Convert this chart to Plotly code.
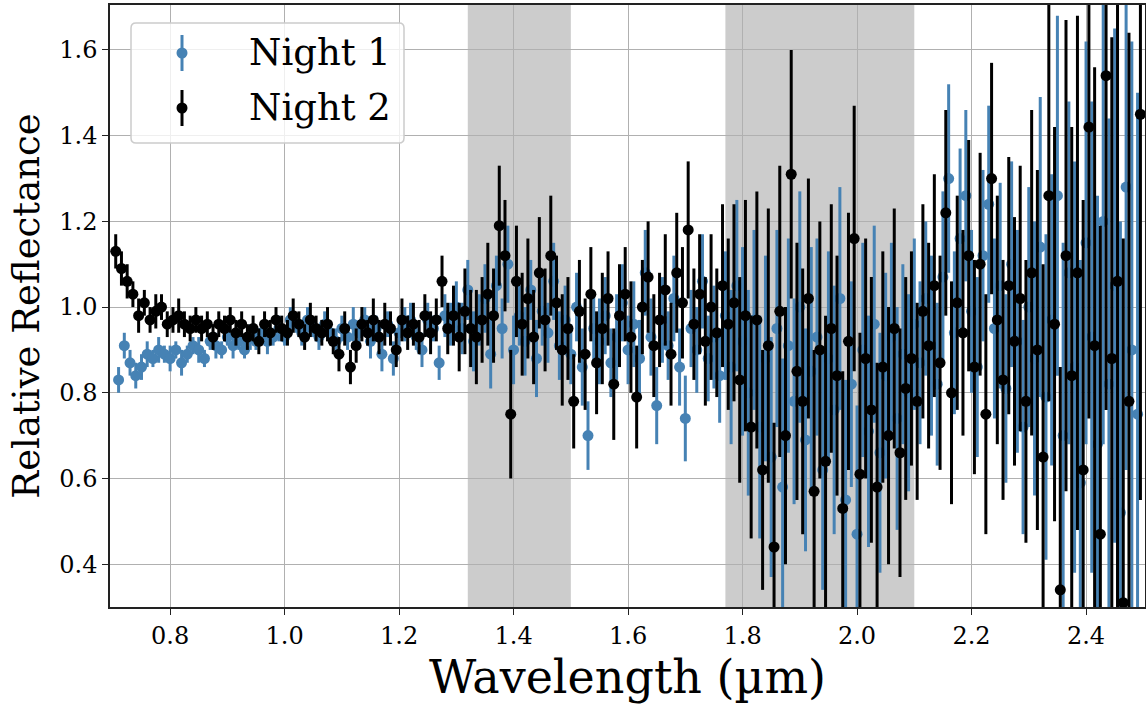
import plotly.graph_objects as go

wavelength_n1 = [
    0.71, 0.72, 0.73, 0.74, 0.75, 0.76, 0.77, 0.78, 0.79, 0.80,
    0.81, 0.82, 0.83, 0.84, 0.85, 0.86, 0.87, 0.88, 0.89, 0.90,
    0.91, 0.92, 0.93, 0.94, 0.95, 0.96, 0.97, 0.98, 0.99, 1.00,
    1.01, 1.02, 1.03, 1.04, 1.05, 1.06, 1.07, 1.08, 1.09, 1.10,
    1.11, 1.12, 1.13, 1.14, 1.15, 1.16, 1.17, 1.18, 1.19, 1.20,
    1.21, 1.22, 1.23, 1.24, 1.25, 1.26, 1.27, 1.28, 1.29, 1.30,
    1.31, 1.32, 1.33, 1.34, 1.35, 1.36, 1.37, 1.38, 1.39, 1.40,
    1.41, 1.42, 1.43, 1.44, 1.45, 1.46, 1.47, 1.48, 1.49, 1.50,
    1.51, 1.52, 1.53, 1.54, 1.55, 1.56, 1.57, 1.58, 1.59, 1.60,
    1.61, 1.62, 1.63, 1.64, 1.65, 1.66, 1.67, 1.68, 1.69, 1.70,
    1.71, 1.72, 1.73, 1.74, 1.75, 1.76, 1.77, 1.78, 1.79, 1.80,
    1.81, 1.82, 1.83, 1.84, 1.85, 1.86, 1.87, 1.88, 1.89, 1.90,
    1.91, 1.92, 1.93, 1.94, 1.95, 1.96, 1.97, 1.98, 1.99, 2.00,
    2.01, 2.02, 2.03, 2.04, 2.05, 2.06, 2.07, 2.08, 2.09, 2.10,
    2.11, 2.12, 2.13, 2.14, 2.15, 2.16, 2.17, 2.18, 2.19, 2.20,
    2.21, 2.22, 2.23, 2.24, 2.25, 2.26, 2.27, 2.28, 2.29, 2.30,
    2.31, 2.32, 2.33, 2.34, 2.35, 2.36, 2.37, 2.38, 2.39, 2.40,
    2.41, 2.42, 2.43, 2.44, 2.45, 2.46, 2.47, 2.48, 2.49,
]

wavelength_n2 = [
    0.705, 0.715, 0.725, 0.735, 0.745, 0.755, 0.765, 0.775, 0.785, 0.795,
    0.805, 0.815, 0.825, 0.835, 0.845, 0.855, 0.865, 0.875, 0.885, 0.895,
    0.905, 0.915, 0.925, 0.935, 0.945, 0.955, 0.965, 0.975, 0.985, 0.995,
    1.005, 1.015, 1.025, 1.035, 1.045, 1.055, 1.065, 1.075, 1.085, 1.095,
    1.105, 1.115, 1.125, 1.135, 1.145, 1.155, 1.165, 1.175, 1.185, 1.195,
    1.205, 1.215, 1.225, 1.235, 1.245, 1.255, 1.265, 1.275, 1.285, 1.295,
    1.305, 1.315, 1.325, 1.335, 1.345, 1.355, 1.365, 1.375, 1.385, 1.395,
    1.405, 1.415, 1.425, 1.435, 1.445, 1.455, 1.465, 1.475, 1.485, 1.495,
    1.505, 1.515, 1.525, 1.535, 1.545, 1.555, 1.565, 1.575, 1.585, 1.595,
    1.605, 1.615, 1.625, 1.635, 1.645, 1.655, 1.665, 1.675, 1.685, 1.695,
    1.705, 1.715, 1.725, 1.735, 1.745, 1.755, 1.765, 1.775, 1.785, 1.795,
    1.805, 1.815, 1.825, 1.835, 1.845, 1.855, 1.865, 1.875, 1.885, 1.895,
    1.905, 1.915, 1.925, 1.935, 1.945, 1.955, 1.965, 1.975, 1.985, 1.995,
    2.005, 2.015, 2.025, 2.035, 2.045, 2.055, 2.065, 2.075, 2.085, 2.095,
    2.105, 2.115, 2.125, 2.135, 2.145, 2.155, 2.165, 2.175, 2.185, 2.195,
    2.205, 2.215, 2.225, 2.235, 2.245, 2.255, 2.265, 2.275, 2.285, 2.295,
    2.305, 2.315, 2.325, 2.335, 2.345, 2.355, 2.365, 2.375, 2.385, 2.395,
    2.405, 2.415, 2.425, 2.435, 2.445, 2.455, 2.465, 2.475, 2.495,
]

night1 = [
    0.83, 0.91, 0.87, 0.84, 0.86, 0.89, 0.88, 0.90, 0.89, 0.88,
    0.90, 0.87, 0.89, 0.91, 0.90, 0.88, 0.92, 0.91, 0.90, 0.93,
    0.91, 0.92, 0.90, 0.93, 0.92, 0.94, 0.92, 0.93, 0.95, 0.93,
    0.97, 0.96, 0.94, 0.97, 0.95, 0.93, 0.96, 0.94, 0.92, 0.95,
    0.93, 0.96, 0.94, 0.97, 0.92, 0.95, 0.89, 0.96, 0.88, 0.94,
    0.96, 0.97, 0.93, 0.90, 0.97, 0.95, 0.87, 0.98, 0.96, 1.00,
    0.95, 1.04, 0.92, 0.97, 1.02, 0.89, 1.05, 0.95, 1.10, 0.90,
    0.98, 0.92, 1.04, 0.88, 0.99, 0.94, 1.06, 0.91, 0.97, 0.89,
    1.00, 0.86, 0.70, 0.95, 0.92, 0.98, 0.87, 0.93, 1.01, 0.90,
    0.96, 0.88, 1.08, 0.93, 0.77, 0.97, 0.91, 1.02, 0.86, 0.74,
    0.95, 0.90, 1.06, 0.88, 0.93, 0.84, 0.98, 0.86, 1.05, 0.92,
    0.80, 0.97, 0.72, 0.88, 0.65, 0.95, 0.58, 0.91, 0.78, 1.00,
    0.69, 0.85, 0.93, 0.62, 0.88, 0.76, 1.02, 0.55, 0.82, 0.47,
    0.90, 0.71, 0.96, 0.66, 0.84, 0.93, 0.74, 0.89, 0.80, 0.96,
    0.87, 1.02, 0.91, 0.82, 1.07, 1.30, 0.94, 1.16, 1.26, 0.99,
    0.86, 1.12, 1.24, 0.95, 1.05, 0.81, 1.10, 0.92, 0.72, 1.00,
    0.88, 1.14, 0.79, 0.97, 1.26, 0.70, 1.08, 0.86, 0.59, 1.15,
    0.93, 0.68, 1.20, 0.82, 1.05, 0.52, 1.28, 0.90, 0.75,
]

night1_err = [
    0.03, 0.03, 0.03, 0.03, 0.03, 0.03, 0.02, 0.03, 0.02, 0.03,
    0.02, 0.03, 0.02, 0.02, 0.03, 0.02, 0.02, 0.03, 0.02, 0.02,
    0.03, 0.02, 0.02, 0.03, 0.02, 0.02, 0.03, 0.02, 0.03, 0.02,
    0.03, 0.02, 0.03, 0.03, 0.02, 0.03, 0.03, 0.02, 0.03, 0.03,
    0.03, 0.04, 0.03, 0.03, 0.04, 0.03, 0.04, 0.03, 0.04, 0.03,
    0.04, 0.04, 0.03, 0.04, 0.04, 0.03, 0.04, 0.05, 0.05, 0.06,
    0.06, 0.07, 0.07, 0.06, 0.08, 0.08, 0.07, 0.07, 0.09, 0.08,
    0.07, 0.08, 0.07, 0.09, 0.08, 0.07, 0.09, 0.08, 0.08, 0.07,
    0.08, 0.09, 0.08, 0.08, 0.10, 0.09, 0.08, 0.10, 0.09, 0.08,
    0.10, 0.09, 0.10, 0.09, 0.09, 0.10, 0.08, 0.10, 0.09, 0.10,
    0.09, 0.10, 0.11, 0.10, 0.12, 0.11, 0.15, 0.18, 0.20, 0.22,
    0.24, 0.21, 0.26, 0.24, 0.28, 0.23, 0.30, 0.25, 0.24, 0.27,
    0.26, 0.29, 0.23, 0.28, 0.25, 0.29, 0.26, 0.28, 0.24, 0.30,
    0.25, 0.27, 0.23, 0.28, 0.24, 0.22, 0.26, 0.21, 0.23, 0.20,
    0.19, 0.18, 0.21, 0.19, 0.20, 0.22, 0.19, 0.21, 0.20, 0.19,
    0.21, 0.20, 0.23, 0.21, 0.24, 0.22, 0.24, 0.26, 0.25, 0.28,
    0.32, 0.35, 0.38, 0.34, 0.42, 0.45, 0.40, 0.48, 0.52, 0.47,
    0.55, 0.58, 0.52, 0.62, 0.60, 0.68, 0.66, 0.72, 0.75,
]

night2 = [
    1.13, 1.09, 1.06, 1.03, 0.98, 1.01, 0.97, 0.99, 1.00, 0.96,
    0.97, 0.98, 0.96, 0.95, 0.97, 0.95, 0.96, 0.93, 0.96, 0.95,
    0.97, 0.94, 0.96, 0.93, 0.95, 0.92, 0.96, 0.94, 0.97, 0.95,
    0.94, 0.98, 0.96, 0.93, 0.97, 0.95, 0.94, 0.96, 0.92, 0.89,
    0.95, 0.86, 0.91, 0.96, 0.94, 0.97, 0.93, 0.96, 0.95, 0.90,
    0.97, 0.94, 0.96, 0.93, 0.98, 0.94, 0.97, 1.06, 0.95, 0.98,
    0.93, 0.99, 0.95, 0.93, 0.97, 1.03, 0.98, 1.19, 1.12, 0.75,
    1.06, 0.96, 1.02, 0.93, 1.08, 0.97, 1.12, 1.01, 0.90, 0.95,
    0.78, 0.99, 0.89, 1.03, 0.87, 0.95, 1.02, 0.82, 0.98, 1.03,
    0.93, 0.79, 1.00, 1.07, 0.91, 0.97, 1.04, 0.89, 1.08, 1.01,
    1.18, 0.96, 1.03, 0.92, 1.00, 0.94, 1.05, 0.96, 1.01, 0.83,
    0.98, 0.72, 0.97, 0.62, 0.91, 0.44, 0.99, 0.70, 1.31, 0.85,
    0.78, 1.02, 0.57, 0.90, 0.64, 0.95, 0.84, 0.53, 0.92, 1.16,
    0.61, 0.88, 0.76, 0.58, 0.86, 0.70, 0.95, 0.66, 0.81, 0.88,
    0.78, 0.99, 0.91, 1.05, 0.87, 1.22, 0.80, 1.01, 0.94, 1.12,
    0.86, 1.10, 0.75, 1.30, 0.97, 0.83, 1.05, 0.92, 1.02, 0.78,
    1.08, 0.90, 0.65, 1.26, 0.96, 0.34, 1.12, 0.84, 1.08, 0.62,
    1.42, 0.91, 0.47, 1.54, 0.88, 1.06, 0.31, 0.78, 1.45,
]

night2_err = [
    0.04, 0.04, 0.04, 0.03, 0.04, 0.03, 0.03, 0.04, 0.03, 0.03,
    0.03, 0.04, 0.03, 0.03, 0.03, 0.03, 0.03, 0.03, 0.03, 0.03,
    0.03, 0.03, 0.03, 0.03, 0.03, 0.03, 0.03, 0.03, 0.03, 0.03,
    0.03, 0.04, 0.03, 0.03, 0.04, 0.03, 0.03, 0.04, 0.03, 0.04,
    0.04, 0.04, 0.04, 0.04, 0.03, 0.05, 0.04, 0.05, 0.04, 0.04,
    0.05, 0.04, 0.05, 0.04, 0.05, 0.05, 0.05, 0.06, 0.06, 0.07,
    0.08, 0.10, 0.09, 0.11, 0.10, 0.12, 0.11, 0.14, 0.13, 0.15,
    0.13, 0.12, 0.14, 0.11, 0.13, 0.12, 0.14, 0.11, 0.13, 0.12,
    0.11, 0.12, 0.13, 0.11, 0.12, 0.13, 0.11, 0.13, 0.12, 0.11,
    0.13, 0.12, 0.11, 0.13, 0.12, 0.11, 0.13, 0.12, 0.14, 0.13,
    0.16, 0.13, 0.14, 0.15, 0.17, 0.15, 0.19, 0.20, 0.23, 0.24,
    0.27, 0.26, 0.30, 0.28, 0.32, 0.29, 0.34, 0.30, 0.29, 0.30,
    0.31, 0.28, 0.33, 0.30, 0.34, 0.29, 0.28, 0.32, 0.30, 0.31,
    0.33, 0.28, 0.31, 0.29, 0.27, 0.30, 0.28, 0.29, 0.26, 0.25,
    0.23, 0.25, 0.24, 0.26, 0.25, 0.24, 0.26, 0.25, 0.24, 0.27,
    0.25, 0.26, 0.28, 0.27, 0.29, 0.28, 0.30, 0.29, 0.31, 0.33,
    0.38, 0.42, 0.45, 0.48, 0.46, 0.52, 0.55, 0.58, 0.60, 0.63,
    0.68, 0.65, 0.72, 0.78, 0.75, 0.80, 0.85, 0.86, 0.90,
]

series_names = ["Night 1", "Night 2"]
series_colors = ["#4682b4", "black"]
water_bands = [(1.32, 1.50), (1.77, 2.10)]

FONT = "DejaVu Serif"

fig = go.Figure()

for wl, vals, errs, name, color in [
    (wavelength_n1, night1, night1_err, series_names[0], series_colors[0]),
    (wavelength_n2, night2, night2_err, series_names[1], series_colors[1]),
]:
    fig.add_trace(go.Scatter(
        x=wl, y=vals, mode="markers", name=name, showlegend=False,
        marker=dict(color=color, size=11, line=dict(width=0)),
        error_y=dict(type="data", array=errs, color=color,
                     thickness=3, width=0),
    ))

for lo, hi in water_bands:
    fig.add_vrect(x0=lo, x1=hi, fillcolor="#cccccc", opacity=1,
                  line_width=0, layer="below")

# ---- custom legend (matplotlib-style errorbar handles) ----
PW, PH = 1035.0, 602.0
def px(xp):
    return (xp - 110) / PW
def py(yp):
    return (607 - yp) / PH

x0, x1, y0, y1 = px(131), px(404), py(143), py(23)
rx, ry = 5 / PW, 5 / PH
path = (f"M {x0+rx},{y1} L {x1-rx},{y1} Q {x1},{y1} {x1},{y1-ry} "
        f"L {x1},{y0+ry} Q {x1},{y0} {x1-rx},{y0} L {x0+rx},{y0} "
        f"Q {x0},{y0} {x0},{y0+ry} L {x0},{y1-ry} Q {x0},{y1} {x0+rx},{y1} Z")
fig.add_shape(type="path", path=path, xref="paper", yref="paper",
              fillcolor="rgba(255,255,255,0.8)", line=dict(color="#cccccc", width=1.5),
              layer="above")

for i, (name, color) in enumerate(zip(series_names, series_colors)):
    cy = 53 + i * 55
    fig.add_shape(type="line", xref="paper", yref="paper",
                  x0=px(182), x1=px(182), y0=py(cy - 18), y1=py(cy + 18),
                  line=dict(color=color, width=3), layer="above")
    fig.add_shape(type="circle", xref="paper", yref="paper",
                  x0=px(182 - 5.5), x1=px(182 + 5.5), y0=py(cy + 5.5), y1=py(cy - 5.5),
                  fillcolor=color, line=dict(width=0), layer="above")
    fig.add_annotation(text=name, xref="paper", yref="paper",
                       x=px(247), y=py(cy), xanchor="left", yanchor="middle",
                       showarrow=False,
                       font=dict(family=FONT, size=37, color="black"))

axis_common = dict(
    showgrid=True, gridcolor="#b0b0b0", gridwidth=1,
    showline=True, linecolor="#222222", linewidth=1.5, mirror=True,
    ticks="outside", ticklen=6, tickwidth=1.2, tickcolor="#222222",
    tickfont=dict(family=FONT, size=24, color="black"),
    zeroline=False, automargin=False,
)

fig.update_xaxes(
    range=[0.695, 2.503], tickvals=[0.8, 1.0, 1.2, 1.4, 1.6, 1.8, 2.0, 2.2, 2.4],
    ticktext=["0.8", "1.0", "1.2", "1.4", "1.6", "1.8", "2.0", "2.2", "2.4"],
    title=dict(text="Wavelength (µm)", font=dict(family=FONT, size=46, color="black"),
               standoff=6),
    **axis_common,
)
fig.update_yaxes(
    range=[0.3, 1.705], tickvals=[0.4, 0.6, 0.8, 1.0, 1.2, 1.4, 1.6],
    ticktext=["0.4", "0.6", "0.8", "1.0", "1.2", "1.4", "1.6"],
    title=dict(text="Relative Reflectance", font=dict(family=FONT, size=37, color="black"),
               standoff=8),
    **axis_common,
)

fig.update_layout(
    width=1146, height=704,
    margin=dict(l=110, r=1, t=5, b=97),
    paper_bgcolor="white", plot_bgcolor="white",
    showlegend=False,
)

fig.write_html(
    "out.html",
    config={"displayModeBar": False},
    post_script="document.body.style.margin='0';document.body.style.overflow='hidden';",
)
